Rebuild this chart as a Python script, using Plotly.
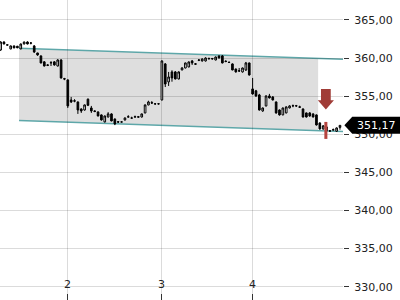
import plotly.graph_objects as go

# ---- data ----
opens = [361.06,362.11,361.75,361.20,361.59,361.55,361.20,361.85,362.11,361.95,
         361.59,360.67,360.28,359.50,359.10,359.36,359.50,358.96,359.75,357.30,
         357.13,354.50,354.40,354.24,353.32,353.19,354.60,353.45,353.06,352.93,
         352.54,351.62,352.27,352.67,352.01,351.65,351.60,351.88,352.25,352.14,
         352.25,352.30,352.27,352.80,353.85,354.15,354.00,353.98,354.50,359.23,
         356.87,358.18,358.18,357.26,358.44,358.70,358.83,359.62,359.25,359.70,
         359.62,359.62,359.90,359.95,359.75,360.28,360.28,359.60,359.45,359.23,
         358.57,358.35,358.18,358.44,359.36,355.95,355.70,355.16,353.06,353.72,
         355.03,354.90,354.24,353.19,352.54,352.80,353.45,353.72,353.75,353.60,
         353.32,352.80,352.80,352.67,352.54,351.49,350.70,350.44,350.45,350.55,
         350.40,350.90]
highs = [362.20,362.20,361.80,361.65,361.65,361.60,361.90,362.15,362.20,362.10,
         361.70,360.70,360.35,359.60,359.20,359.60,359.60,359.85,359.85,357.40,
         357.20,354.90,354.60,354.30,353.40,353.90,354.70,353.72,353.15,353.00,
         352.60,352.45,352.90,352.75,352.05,351.70,351.70,352.20,352.50,352.30,
         352.45,352.40,352.70,353.90,354.40,354.35,354.10,354.05,359.70,359.35,
         358.18,358.40,358.30,358.25,358.80,359.40,359.55,359.75,359.35,359.85,
         359.95,360.10,360.05,360.00,360.20,360.35,360.40,359.70,359.55,359.30,
         358.60,358.70,358.75,359.49,359.40,357.39,355.82,355.30,353.50,355.10,
         355.30,355.00,354.30,353.25,353.50,353.65,353.80,353.90,353.85,353.75,
         353.40,352.85,352.90,352.75,352.60,351.55,351.20,351.00,350.55,350.75,
         350.90,351.20]
lows = [360.95,361.80,361.65,361.15,361.30,361.30,361.15,361.80,361.80,361.80,
        360.67,360.30,359.30,358.90,358.95,358.96,359.00,358.90,357.30,357.10,
        353.45,354.10,354.20,352.67,352.80,353.10,353.70,352.80,352.90,352.35,
        351.80,351.55,352.20,351.70,351.20,351.50,351.55,351.80,352.20,352.05,
        352.20,352.20,352.20,352.75,353.80,354.00,353.90,353.90,354.45,356.20,
        356.34,356.90,357.20,357.20,358.40,358.65,358.80,359.10,359.10,359.60,
        359.55,359.55,359.80,359.80,359.70,359.95,359.30,359.45,359.35,358.40,
        358.10,358.18,358.10,358.31,357.70,355.20,354.90,353.10,352.95,353.65,
        354.70,354.45,352.70,352.45,352.50,352.75,353.40,353.55,353.60,353.45,
        352.20,352.20,352.30,352.20,351.15,350.60,350.60,350.35,350.35,350.50,
        350.30,350.60]
closes = [362.11,361.85,361.70,361.59,361.33,361.35,361.85,362.11,361.85,361.98,
          360.80,360.41,359.36,358.96,359.05,359.40,359.10,359.75,357.39,357.25,
          353.72,354.24,354.35,353.19,353.06,353.85,353.80,353.06,353.00,352.40,
          351.88,352.40,352.67,351.75,351.36,351.60,351.62,352.14,352.30,352.12,
          352.30,352.25,352.67,353.85,354.24,354.10,353.98,354.00,359.62,356.60,
          357.52,357.39,357.26,358.18,358.70,359.36,359.49,359.36,359.20,359.75,
          359.88,360.01,359.95,359.90,360.14,360.01,359.36,359.55,359.42,358.44,
          358.18,358.30,358.70,359.36,357.78,355.29,355.03,353.19,353.45,355.03,
          354.77,354.50,352.80,352.54,353.45,353.59,353.72,353.75,353.72,353.55,
          352.27,352.27,352.40,352.27,351.22,350.70,351.10,350.96,350.42,350.60,
          350.83,351.17]
xidx = list(range(len(closes)))

tick_vals = [20, 48, 75]
tick_text = ["2", "3", "4"]
y_ticks = [330, 335, 340, 345, 350, 355, 360, 365]

# trend channel (start index, end index, prices)
chan_x = [5.48, 101.9]
chan_top = [361.29, 359.84]
chan_bot = [351.81, 350.37]
chan_fill_end = 94.5

# signal marker
sig_x = 96.8
arrow_top, arrow_mid, arrow_tip = 355.95, 354.45, 353.25
sig_bar = [349.39, 351.62]

x_range = [-0.18, 101.9]
y_range = [328.25, 367.62]

fig = go.Figure()
fig.add_trace(go.Candlestick(
    x=xidx, open=opens, high=highs, low=lows, close=closes,
    increasing=dict(line=dict(color="black", width=1), fillcolor="white"),
    decreasing=dict(line=dict(color="black", width=1), fillcolor="black"),
    whiskerwidth=0, showlegend=False, hoverinfo="skip"))

def interp(xs, ys, x):
    return ys[0] + (ys[1] - ys[0]) * (x - xs[0]) / (xs[1] - xs[0])

shapes = []
ft = interp(chan_x, chan_top, chan_fill_end)
fb = interp(chan_x, chan_bot, chan_fill_end)
shapes.append(dict(type="path", xref="x", yref="y", layer="below",
                   path=f"M {chan_x[0]},{chan_top[0]} L {chan_fill_end},{ft} L {chan_fill_end},{fb} L {chan_x[0]},{chan_bot[0]} Z",
                   fillcolor="#dedede", line=dict(width=0)))
for ys in (chan_top, chan_bot):
    shapes.append(dict(type="line", xref="x", yref="y", layer="below",
                       x0=chan_x[0], y0=ys[0], x1=chan_x[1], y1=ys[1],
                       line=dict(color="#5ea7a9", width=1.5)))
shapes.append(dict(type="rect", xref="x", yref="y", layer="above",
                   x0=sig_x - 0.45, x1=sig_x + 0.45, y0=sig_bar[0], y1=sig_bar[1],
                   fillcolor="#b5443f", line=dict(width=0)))
sw, hw = 1.45, 2.4
shapes.append(dict(type="path", xref="x", yref="y", layer="above",
                   path=(f"M {sig_x-sw},{arrow_top} L {sig_x+sw},{arrow_top} L {sig_x+sw},{arrow_mid} "
                         f"L {sig_x+hw},{arrow_mid} L {sig_x},{arrow_tip} L {sig_x-hw},{arrow_mid} "
                         f"L {sig_x-sw},{arrow_mid} Z"),
                   fillcolor="#a03c37", line=dict(width=0)))
last = closes[-1]
yp = (last - y_range[0]) / (y_range[1] - y_range[0])
hh = 8.5 / 300
shapes.append(dict(type="path", xref="paper", yref="paper", layer="above",
                   path=(f"M 1.004,{yp} L 1.027,{yp+hh} L 1.2,{yp+hh} L 1.2,{yp-hh} L 1.027,{yp-hh} Z"),
                   fillcolor="black", line=dict(width=0)))

annotations = [dict(xref="paper", yref="y", x=1.036, y=last, xanchor="left", yanchor="middle",
                    text=f"{last:.2f}".replace(".", ","), showarrow=False,
                    font=dict(family="DejaVu Sans", size=11, color="white"))]
for tv, tt in zip(tick_vals, tick_text):
    annotations.append(dict(xref="x", yref="paper", x=tv, y=0, xanchor="center", yanchor="bottom",
                            yshift=7, text=tt, showarrow=False,
                            font=dict(family="DejaVu Sans", size=11, color="#222")))

fig.update_layout(
    width=400, height=300,
    margin=dict(l=0, r=57, t=0, b=0),
    paper_bgcolor="white", plot_bgcolor="white",
    separators=",.",
    font=dict(family="DejaVu Sans", size=11, color="#222"),
    shapes=shapes,
    annotations=annotations,
    xaxis=dict(range=x_range, tickvals=tick_vals, ticktext=tick_text, showticklabels=False,
               showgrid=True, gridcolor="rgba(0,0,0,0.14)", gridwidth=1,
               ticks="inside", ticklen=6, tickcolor="#333",
               zeroline=False, showline=False,
               rangeslider=dict(visible=False), fixedrange=True),
    yaxis=dict(range=y_range, side="right", tickvals=y_ticks, tickformat=".2f",
               showgrid=True, gridcolor="rgba(0,0,0,0.14)", gridwidth=1,
               ticks="outside", ticklen=5, tickcolor="#333", ticklabelstandoff=3,
               zeroline=False, showline=False, fixedrange=True),
)

fig.write_html("out.html")
